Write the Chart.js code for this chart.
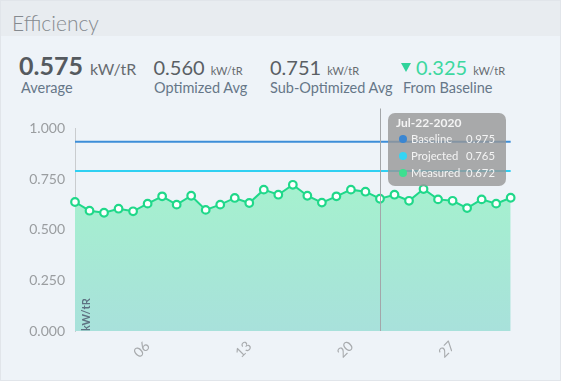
<!DOCTYPE html>
<html>
<head>
<meta charset="utf-8">
<script src="https://cdn.jsdelivr.net/npm/chart.js@4.4.1/dist/chart.umd.min.js"></script>
<style>
  html, body { margin: 0; padding: 0; background: #eef3f8; }
  #card { position: absolute; left: 0; top: 0; width: 559px; height: 379px; border: 1px solid #e1e5ea; background: #eef3f8; overflow: hidden; font-family: Lato, "Open Sans", sans-serif; }
  #titlebar { position: absolute; left: 0; top: 0; width: 100%; height: 35px; background: #e8ecf0; }
  #title { position: absolute; left: 11px; top: 10.5px; font-size: 21px; line-height: 21px; font-weight: 300; color: #858a8f; }
  .row { position: absolute; display: flex; align-items: baseline; white-space: nowrap; }
  .row span { line-height: 1; }
  .lbl { position: absolute; font-size: 14.5px; line-height: 14.5px; color: #667788; white-space: nowrap; }
  .big { font-size: 25px; font-weight: 700; color: #555a5f; }
  .num { font-size: 20px; color: #5a5f64; }
  .u16 { font-size: 16px; color: #666b70; margin-left: 7px; }
  .u11 { font-size: 11px; color: #666b70; margin-left: 6px; }
  .green { color: #3dd8a0; }
  .tri { display: inline-block; width: 0; height: 0; border-left: 5.5px solid transparent; border-right: 5.5px solid transparent; border-top: 9px solid #2fd39b; margin-right: 5px; align-self: center; }
  #wrap { position: absolute; left: 0; top: 100px; width: 561px; height: 281px; }
  #tip { position: absolute; display: none; width: 118px; box-sizing: border-box; padding: 2px 11px 5px 8px; background: rgba(150,150,150,0.8); border-radius: 7px; color: #f4f4f4; font-family: Lato, sans-serif; pointer-events: none; }
  #tip .t { font-size: 12px; font-weight: 700; line-height: 16px; height: 15px; }
  #tip .r { display: flex; align-items: center; font-size: 11.3px; line-height: 17px; height: 17px; white-space: nowrap; }
  #tip .d { width: 8px; height: 8px; border-radius: 50%; margin: 0 3.5px 0 3.5px; flex: none; }
  #tip .n { flex: 1; }
</style>
</head>
<body>
<div id="card">
  <div id="titlebar"></div>
  <div id="title">Efficiency</div>

  <div class="row" style="left:18px; top:52px;"><span class="big">0.575</span><span class="u16">kW/tR</span></div>
  <div class="lbl" style="left:20px; top:80px;">Average</div>

  <div class="row" style="left:152.5px; top:56.3px;"><span class="num">0.560</span><span class="u11">kW/tR</span></div>
  <div class="lbl" style="left:153px; top:80px;">Optimized Avg</div>

  <div class="row" style="left:269px; top:56.3px;"><span class="num">0.751</span><span class="u11">kW/tR</span></div>
  <div class="lbl" style="left:269px; top:80px;">Sub-Optimized Avg</div>

  <div class="row" style="left:400px; top:56.3px;"><span class="tri"></span><span class="num green">0.325</span><span class="u11">kW/tR</span></div>
  <div class="lbl" style="left:402px; top:80px;">From Baseline</div>

  <div id="wrap"><canvas id="c" width="561" height="281"></canvas><div id="tip"></div></div>
</div>
<script>
// ---- data ----
const dates = ['Jul-01-2020','Jul-02-2020','Jul-03-2020','Jul-04-2020','Jul-05-2020','Jul-06-2020','Jul-07-2020','Jul-08-2020','Jul-09-2020','Jul-10-2020','Jul-11-2020','Jul-12-2020','Jul-13-2020','Jul-14-2020','Jul-15-2020','Jul-16-2020','Jul-17-2020','Jul-18-2020','Jul-19-2020','Jul-20-2020','Jul-21-2020','Jul-22-2020','Jul-23-2020','Jul-24-2020','Jul-25-2020','Jul-26-2020','Jul-27-2020','Jul-28-2020','Jul-29-2020','Jul-30-2020','Jul-31-2020'];
const measured = [0.637,0.594,0.584,0.604,0.591,0.629,0.665,0.624,0.668,0.598,0.624,0.657,0.632,0.698,0.673,0.722,0.668,0.634,0.665,0.698,0.688,0.653,0.673,0.643,0.701,0.650,0.643,0.607,0.650,0.629,0.658];
const baseline = [0.935,0.935,0.935,0.935,0.935,0.935,0.935,0.935,0.935,0.935,0.935,0.935,0.935,0.935,0.935,0.935,0.935,0.935,0.935,0.935,0.935,0.935,0.935,0.935,0.935,0.935,0.935,0.935,0.935,0.935,0.935];
const projected = [0.79,0.79,0.79,0.79,0.79,0.79,0.79,0.79,0.79,0.79,0.79,0.79,0.79,0.79,0.79,0.79,0.79,0.79,0.79,0.79,0.79,0.79,0.79,0.79,0.79,0.79,0.79,0.79,0.79,0.79,0.79];
const xTickIndex = [5, 12, 19, 26];
const xTickLabels = ['06', '13', '20', '27'];
const yTicks = [0, 0.25, 0.5, 0.75, 1];
const tooltipIndex = 21;
const tooltipValues = [0.975, 0.765, 0.672];
const tooltipDotColors = ['#3a86d2', '#34d4f4', '#3ddf90'];
const axisUnit = 'kW/tR';

const pts = arr => arr.map((v, i) => ({ x: i, y: v }));

const hoverLine = {
  id: 'hoverLine',
  afterDatasetsDraw(chart) {
    const act = chart.tooltip.getActiveElements();
    if (!act.length) return;
    const x = Math.round(act[0].element.x) + 0.5;
    const c = chart.ctx;
    c.save();
    c.strokeStyle = '#a3a6a9';
    c.lineWidth = 1;
    c.beginPath();
    c.moveTo(x, chart.chartArea.top - 20);
    c.lineTo(x, chart.chartArea.bottom);
    c.stroke();
    c.restore();
  }
};
const unitLabel = {
  id: 'unitLabel',
  afterDatasetsDraw(chart) {
    const c = chart.ctx, a = chart.chartArea;
    c.save();
    c.translate(a.left + 11.5, a.bottom);
    c.rotate(-Math.PI / 2);
    c.font = 'bold 11px Lato, sans-serif';
    c.fillStyle = '#5e7282';
    c.textAlign = 'left';
    c.textBaseline = 'middle';
    c.fillText(axisUnit, 0, 0);
    c.restore();
  }
};

function externalTip(ctx) {
  const { chart, tooltip } = ctx;
  const el = document.getElementById('tip');
  if (tooltip.opacity === 0 || !tooltip.dataPoints || !tooltip.dataPoints.length) { el.style.display = 'none'; return; }
  const idx = tooltip.dataPoints[0].dataIndex;
  let html = '<div class="t">' + dates[idx] + '</div>';
  tooltip.dataPoints.forEach((dp, k) => {
    html += '<div class="r"><span class="d" style="background:' + tooltipDotColors[k] + '"></span><span class="n">' +
      dp.dataset.label + '</span><span>' + tooltipValues[k].toFixed(3) + '</span></div>';
  });
  el.innerHTML = html;
  el.style.display = 'block';
  el.style.left = (tooltip.caretX + 8) + 'px';
  el.style.top = (chart.chartArea.top - 15.5) + 'px';
}

const chart = new Chart(document.getElementById('c'), {
  type: 'line',
  data: {
    datasets: [
      { label: 'Baseline', data: pts(baseline), borderColor: '#3d8ed8', borderWidth: 2, pointRadius: 0, pointHoverRadius: 0, fill: false, order: 2 },
      { label: 'Projected', data: pts(projected), borderColor: '#2fd0f2', borderWidth: 2, pointRadius: 0, pointHoverRadius: 0, fill: false, order: 3 },
      {
        label: 'Measured', data: pts(measured), borderColor: '#20d88a', borderWidth: 2, clip: false,
        pointRadius: 3.8, pointHoverRadius: 3.8, pointBorderWidth: 2.2, pointHoverBorderWidth: 2.2,
        pointBackgroundColor: '#ffffff', pointHoverBackgroundColor: '#ffffff', pointBorderColor: '#20d88a',
        tension: 0, fill: 'origin', order: 1,
        backgroundColor: (c) => {
          const a = c.chart.chartArea;
          if (!a) return 'rgba(166,242,204,1)';
          const g = c.chart.ctx.createLinearGradient(0, a.top, 0, a.bottom);
          g.addColorStop(0, '#a4f7c9');
          g.addColorStop(1, '#a8e1db');
          return g;
        }
      }
    ]
  },
  options: {
    responsive: false,
    animation: false,
    events: [],
    layout: { padding: { left: 0, right: 47.7, top: 27.5, bottom: 0 } },
    plugins: {
      legend: { display: false },
      tooltip: { enabled: false, mode: 'index', intersect: false, external: externalTip }
    },
    scales: {
      x: {
        type: 'linear', min: 0, max: 30.25,
        grid: { display: false, drawTicks: false },
        border: { display: false },
        afterBuildTicks: (s) => { s.ticks = xTickIndex.map(v => ({ value: v })); },
        afterFit: (s) => { s.height = 51; },
        ticks: {
          autoSkip: false, minRotation: 45, maxRotation: 45, padding: 7,
          color: '#a8abae', font: { family: 'Lato', size: 14 },
          callback: (v) => xTickLabels[xTickIndex.indexOf(v)]
        }
      },
      y: {
        min: 0, max: 1,
        grid: { display: false, drawTicks: false },
        border: { display: true, color: '#c9cccf', width: 1 },
        afterBuildTicks: (s) => { s.ticks = yTicks.map(v => ({ value: v })); },
        afterFit: (s) => { s.width = 74; },
        ticks: {
          padding: 10, color: '#9a9da0', font: { family: 'Lato', size: 14 },
          callback: (v) => Number(v).toFixed(3)
        }
      }
    }
  },
  plugins: [hoverLine, unitLabel]
});

const active = [0, 1, 2].map(d => ({ datasetIndex: d, index: tooltipIndex }));
const el = chart.getDatasetMeta(2).data[tooltipIndex];
chart.tooltip.setActiveElements(active, { x: el.x, y: el.y });
chart.update();
</script>
</body>
</html>
